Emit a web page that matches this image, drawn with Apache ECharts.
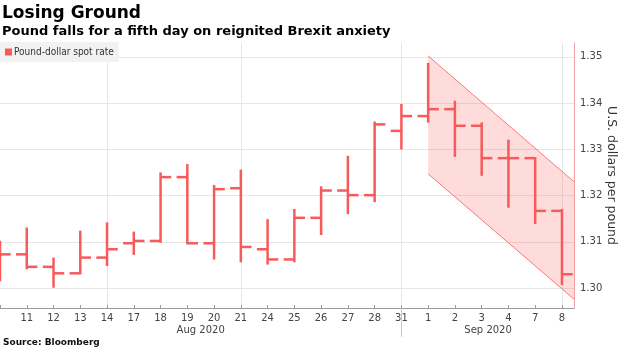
<!DOCTYPE html>
<html>
<head>
<meta charset="utf-8">
<script src="https://cdn.jsdelivr.net/npm/echarts@6/dist/echarts.min.js"></script>
<style>
  html, body { margin: 0; padding: 0; background: #fff; }
  #chart { width: 620px; height: 348px; }
</style>
</head>
<body>
<div id="chart"></div>
<script>
// Trading days, 10 Aug – 8 Sep 2020
const dayLabels = ['10','11','12','13','14','17','18','19','20','21','24','25','26','27','28','31','1','2','3','4','7','8'];
// Pound-dollar spot rate, daily open / high / low / close
const opens  = [1.3085,1.3073,1.3046,1.3032,1.3066,1.3097,1.3102,1.3240,1.3097,1.3216,1.3084,1.3062,1.3152,1.3211,1.3201,1.3340,1.3372,1.3387,1.3351,1.3281,1.3281,1.3167];
const highs  = [1.3100,1.3129,1.3064,1.3122,1.3140,1.3120,1.3248,1.3266,1.3221,1.3254,1.3147,1.3169,1.3218,1.3284,1.3358,1.3396,1.3485,1.3403,1.3356,1.3319,1.3281,1.3169];
const lows   = [1.3017,1.3043,1.3003,1.3032,1.3050,1.3074,1.3100,1.3097,1.3064,1.3058,1.3053,1.3058,1.3117,1.3162,1.3188,1.3302,1.3360,1.3286,1.3245,1.3176,1.3141,1.3009];
const closes = [1.3073,1.3046,1.3032,1.3066,1.3084,1.3102,1.3240,1.3097,1.3214,1.3089,1.3062,1.3152,1.3211,1.3201,1.3354,1.3372,1.3387,1.3351,1.3281,1.3281,1.3167,1.3030];
// Value axis ticks
const yTicks = [1.30, 1.31, 1.32, 1.33, 1.34, 1.35];
// Month captions under the day labels
const monthLabels = ['Aug 2020', 'Sep 2020'];
// Downward channel drawn from 1 Sep to the right edge
const channelX     = [16, 21.45];
const channelUpper = [1.3502, 1.3230];
const channelLower = [1.3247, 1.2976];

const RED = '#f75a5a';
const FONT = 'DejaVu Sans';
const X_MAX = 21.45;
const Y_MIN = 1.2957, Y_MAX = 1.353;

const ohlc = dayLabels.map((d, i) => [i, opens[i], highs[i], lows[i], closes[i]]);
const dayIdx = dayLabels.map((d, i) => i);
const monthPos = [7.5, 18.24];

const chart = echarts.init(document.getElementById('chart'), null, { renderer: 'canvas' });

const hiddenX = (extra) => Object.assign({
  type: 'value', min: 0, max: X_MAX, gridIndex: 0, position: 'bottom',
  axisLine: { show: false, onZero: false }, axisLabel: { show: false },
  axisTick: { show: false }, splitLine: { show: false }
}, extra);

chart.setOption({
  animation: false,
  textStyle: { fontFamily: FONT },
  title: [{
    text: 'Losing Ground',
    left: 0, top: 5, padding: [0, 2],
    textStyle: { fontFamily: FONT, fontSize: 17, fontWeight: 'bold', color: '#000' }
  }, {
    text: 'Pound falls for a fifth day on reignited Brexit anxiety',
    left: 0, top: 25, padding: [0, 2],
    textStyle: { fontFamily: FONT, fontSize: 13, fontWeight: 'bold', color: '#000' }
  }],
  legend: {
    left: 0, top: 42,
    data: ['Pound-dollar spot rate'],
    icon: 'rect', itemWidth: 7, itemHeight: 7, itemGap: 4,
    backgroundColor: '#f2f2f2', padding: [5, 5, 5, 5],
    textStyle: { fontFamily: 'DejaVu Sans Condensed', fontSize: 10, color: '#333', padding: [0, 0, 0, -3] }
  },
  graphic: [{
    type: 'text', left: 3, top: 338,
    style: { text: 'Source: Bloomberg', font: 'bold 9px "DejaVu Sans"', fill: '#111' }
  }],
  grid: { left: 0, right: 46, top: 43, bottom: 40, outerBoundsMode: 'none', containLabel: false },
  xAxis: [{
    type: 'value', min: 0, max: X_MAX, position: 'bottom',
    axisLine: { show: true, onZero: false, lineStyle: { color: '#9a9a9a', width: 1 } },
    axisTick: { show: true, inside: true, length: 3, customValues: dayIdx, lineStyle: { color: '#9a9a9a' } },
    axisLabel: {
      customValues: dayIdx.slice(1), margin: 5,
      fontFamily: FONT, fontSize: 10, color: '#444',
      formatter: v => dayLabels[Math.round(v)]
    },
    splitLine: { show: false }
  },
  // vertical gridlines
  hiddenX({ axisTick: { show: false, customValues: [4, 9, 15, 21] },
            splitLine: { show: true, lineStyle: { color: '#e6e6e6', width: 1 } } }),
  // month separator
  hiddenX({ axisTick: { show: true, length: 29, customValues: [15], lineStyle: { color: '#c8c8c8' } } }),
  // month captions
  hiddenX({ axisLabel: { show: true, customValues: monthPos, margin: 17,
            fontFamily: FONT, fontSize: 10, color: '#444',
            formatter: v => monthLabels[v < 15 ? 0 : 1] } })
  ],
  yAxis: {
    type: 'value', position: 'right', min: Y_MIN, max: Y_MAX,
    name: 'U.S. dollars per pound', nameLocation: 'middle', nameRotate: -90,
    nameGap: 31, nameMoveOverlap: false,
    nameTextStyle: { fontFamily: FONT, fontSize: 12.5, color: '#333' },
    axisLine: { show: true, onZero: false, lineStyle: { color: '#f7a0a0', width: 1 } },
    axisTick: { show: false, customValues: yTicks },
    axisLabel: { customValues: yTicks, margin: 6, fontFamily: FONT, fontSize: 10, color: '#444',
                 formatter: v => v.toFixed(2) },
    splitLine: { show: true, lineStyle: { color: '#e6e6e6', width: 1 } }
  },
  series: [{
    name: 'channel',
    type: 'custom',
    silent: true,
    data: [[channelX[0], channelX[1], channelUpper[0], channelUpper[1], channelLower[0], channelLower[1]]],
    encode: { x: [0, 1], y: [2, 3, 4, 5] },
    renderItem: (params, api) => {
      const u0 = api.coord([api.value(0), api.value(2)]);
      const u1 = api.coord([api.value(1), api.value(3)]);
      const l0 = api.coord([api.value(0), api.value(4)]);
      const l1 = api.coord([api.value(1), api.value(5)]);
      return { type: 'group', children: [
        { type: 'polygon', shape: { points: [u0, u1, l1, l0] },
          style: { fill: 'rgba(250, 80, 80, 0.2)', stroke: null } },
        { type: 'line', shape: { x1: u0[0], y1: u0[1], x2: u1[0], y2: u1[1] },
          style: { stroke: '#f77', lineWidth: 1 } },
        { type: 'line', shape: { x1: l0[0], y1: l0[1], x2: l1[0], y2: l1[1] },
          style: { stroke: '#f77', lineWidth: 1 } }
      ]};
    },
    z: 1
  }, {
    name: 'Pound-dollar spot rate',
    type: 'custom',
    itemStyle: { color: RED },
    data: ohlc,
    encode: { x: 0, y: [1, 2, 3, 4] },
    renderItem: (params, api) => {
      const i = api.value(0);
      const pO = api.coord([i, api.value(1)]);
      const pH = api.coord([i, api.value(2)]);
      const pL = api.coord([i, api.value(3)]);
      const pC = api.coord([i, api.value(4)]);
      const w = api.size([1, 0])[0] * 0.4;
      const style = { stroke: RED, lineWidth: 2.5, fill: null };
      return { type: 'group', children: [
        { type: 'line', shape: { x1: pH[0], y1: pH[1] - 1, x2: pL[0], y2: pL[1] + 1 }, style },
        { type: 'line', shape: { x1: pO[0] - w, y1: pO[1], x2: pO[0], y2: pO[1] }, style },
        { type: 'line', shape: { x1: pC[0], y1: pC[1], x2: pC[0] + w, y2: pC[1] }, style }
      ]};
    },
    z: 3
  }]
});
</script>
</body>
</html>
